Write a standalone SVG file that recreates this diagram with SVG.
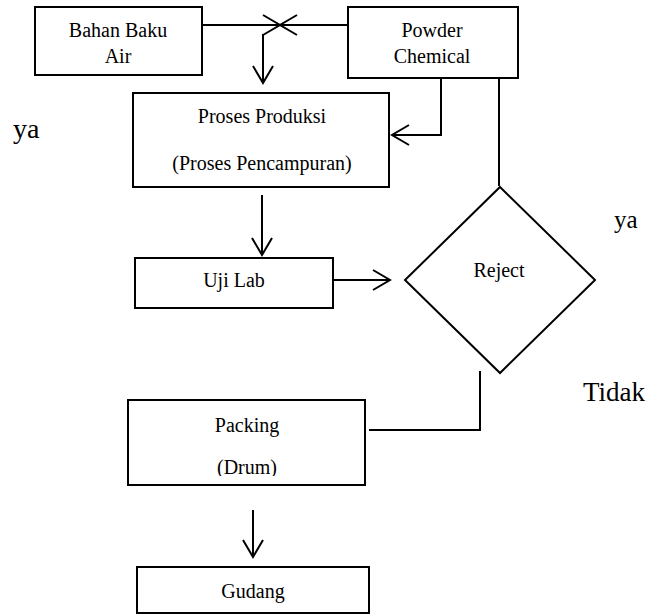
<svg xmlns="http://www.w3.org/2000/svg" width="651" height="615" viewBox="0 0 651 615">
<style>
.box{fill:#fff;stroke:#000;stroke-width:2}
.t{font-family:"Liberation Serif","Times New Roman",serif;font-size:20px;fill:#000;text-anchor:middle}
.lbl{font-family:"Liberation Serif","Times New Roman",serif;fill:#000}
.c{fill:none;stroke:#000;stroke-width:2}
.ca{fill:none;stroke:#000;stroke-width:2;marker-end:url(#arr)}
</style>
<defs>
<marker id="arr" markerUnits="userSpaceOnUse" viewBox="-20 -13 23 26" markerWidth="23" markerHeight="26" refX="0" refY="0" orient="auto">
<path d="M-17,-10 L0,0 L-17,10" fill="none" stroke="#000" stroke-width="2"/>
</marker>
<clipPath id="clipPack"><rect x="128" y="400" width="237" height="76"/></clipPath>
</defs>
<rect width="651" height="615" fill="#fff"/>

<g id="connectors">
<line class="ca" x1="202" y1="25" x2="280" y2="25"/>
<line class="ca" x1="348" y1="25" x2="280" y2="25"/>
<line class="ca" x1="263" y1="34" x2="263" y2="83"/>
<polyline class="ca" points="441,78 441,135 392,135"/>
<line class="c" x1="499" y1="78" x2="499" y2="186"/>
<line class="ca" x1="262" y1="195" x2="262" y2="255"/>
<line class="ca" x1="334" y1="280" x2="390" y2="280"/>
<polyline class="c" points="480,371 480,430 369,430"/>
<line class="ca" x1="253" y1="510" x2="253" y2="557"/>
</g>

<g id="bahan">
<rect class="box" x="35" y="7" width="167" height="68"/>
<text class="t" x="118" y="37">Bahan Baku</text>
<text class="t" x="118" y="63">Air</text>
</g>

<g id="powder">
<rect class="box" x="348" y="7" width="170" height="71"/>
<text class="t" x="432" y="37">Powder</text>
<text class="t" x="432" y="63">Chemical</text>
</g>

<g id="proses">
<rect class="box" x="133" y="93" width="256" height="94"/>
<text class="t" x="262" y="123">Proses Produksi</text>
<text class="t" x="262" y="170">(Proses Pencampuran)</text>
</g>

<g id="ujilab">
<rect class="box" x="135" y="258" width="198" height="50"/>
<text class="t" x="234" y="287">Uji Lab</text>
</g>

<g id="reject">
<polygon class="box" points="500,187 595,280 500,373 405,280"/>
<text class="t" x="499" y="277">Reject</text>
</g>

<g id="packing">
<rect class="box" x="128" y="400" width="237" height="85"/>
<text class="t" x="247" y="432">Packing</text>
<text class="t" x="247" y="474" clip-path="url(#clipPack)">(Drum)</text>
</g>

<g id="gudang">
<rect class="box" x="137" y="567" width="232" height="46"/>
<text class="t" x="253" y="598">Gudang</text>
</g>

<g id="labels">
<text class="lbl" x="13" y="138" font-size="28">ya</text>
<text class="lbl" x="614" y="228" font-size="25">ya</text>
<text class="lbl" x="583" y="401" font-size="27">Tidak</text>
</g>
</svg>
